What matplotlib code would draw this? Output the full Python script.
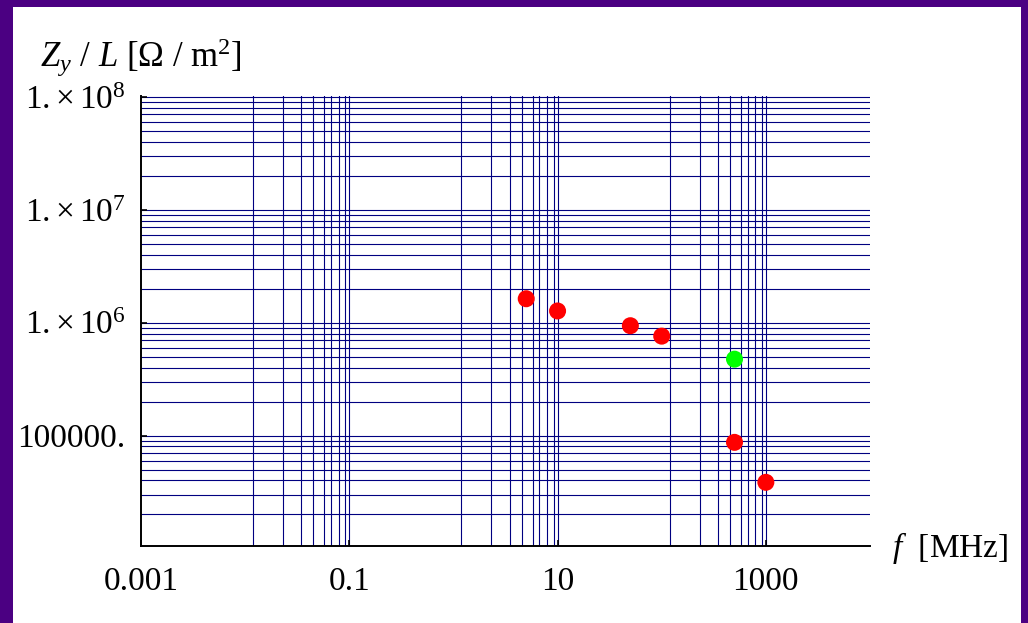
import numpy as np
import matplotlib.pyplot as plt
from matplotlib.patches import Rectangle

plt.rcParams['font.family'] = ['Liberation Serif', 'DejaVu Serif']
plt.rcParams['mathtext.fontset'] = 'custom'
plt.rcParams['mathtext.rm'] = 'Liberation Serif'
plt.rcParams['mathtext.it'] = 'Liberation Serif:italic'

# measured points (f in MHz, Zy/L in Ohm/m^2)
f_red = [5, 10, 50, 100, 500, 1000]
z_red = [1.63e6, 1.27e6, 9.4e5, 7.6e5, 8.7e4, 3.85e4]
f_green = [500]
z_green = [4.75e5]

# tick labels
x_ticks = [1e-3, 1e-1, 10, 1000]
x_labels = ['0.001', '0.1', '10', '1000']
y_ticks = [1e5, 1e6, 1e7, 1e8]
y_labels = ['100000.', r'$1.\!\times 10^{6}$', r'$1.\!\times 10^{7}$', r'$1.\!\times 10^{8}$']

# grid line positions as they appear in the picture
x_grid = [0.0119, 0.0231, 0.0347, 0.0452, 0.0575, 0.0667, 0.0789, 0.0916, 0.1,
          1.19, 2.31, 3.47, 4.52, 5.75, 6.67, 7.89, 9.16, 10,
          119, 231, 347, 452, 575, 667, 789, 916, 1000]
y_grid = [m * 10.0 ** k for k in [4, 5, 6, 7] for m in [1, 2, 3, 4, 5, 6, 7, 8, 9]] + [1e8]

purple = '#4b0082'
navy = '#000080'

fig = plt.figure(figsize=(10.28, 6.23), dpi=100, facecolor=purple)
fig.patches.append(Rectangle((13 / 1028, 0), (1021 - 13) / 1028, 616 / 623,
                             transform=fig.transFigure, facecolor='white',
                             edgecolor='none', zorder=-5))

ax = fig.add_axes([141 / 1028, 77 / 623, 729 / 1028, 450 / 623])
ax.set_zorder(2)
ax.set_facecolor('none')
ax.set_xscale('log')
ax.set_yscale('log')
ax.set_xlim(1e-3, 1e4)
ax.set_ylim(1.05e4, 1.02e8)

for xv in x_grid:
    ax.axvline(xv, color=navy, lw=0.8, zorder=1)
for yv in y_grid:
    if 1.05e4 <= yv <= 1.02e8:
        ax.axhline(yv, color=navy, lw=0.8, zorder=1)

ax.scatter(f_red, z_red, s=150, color='#ff0000', zorder=3, edgecolors='none')
ax.scatter(f_green, z_green, s=150, color='#00ff00', zorder=3, edgecolors='none')

ax.set_xticks(x_ticks)
ax.set_xticklabels(x_labels)
ax.set_yticks(y_ticks)
ax.set_yticklabels(y_labels)
ax.xaxis.set_minor_locator(plt.NullLocator())
ax.yaxis.set_minor_locator(plt.NullLocator())
ax.tick_params(axis='x', direction='in', length=4, width=1.2, labelsize=24, pad=15)
ax.tick_params(axis='y', direction='in', length=4, width=1.2, labelsize=24, pad=11)

for s in ['top', 'right']:
    ax.spines[s].set_visible(False)
for s in ['left', 'bottom']:
    ax.spines[s].set_linewidth(1.4)
    ax.spines[s].set_zorder(4)

fig.text(40 / 1028, 1 - 67 / 623, r'$Z_y$ / $L$ [Ω / m$^2$]', fontsize=25,
         ha='left', va='baseline')
fig.text(892 / 1028, 1 - 548 / 623, r'$f$  [MHz]', fontsize=24,
         ha='left', va='center')

fig.savefig('out.png', dpi=100, facecolor=purple)
